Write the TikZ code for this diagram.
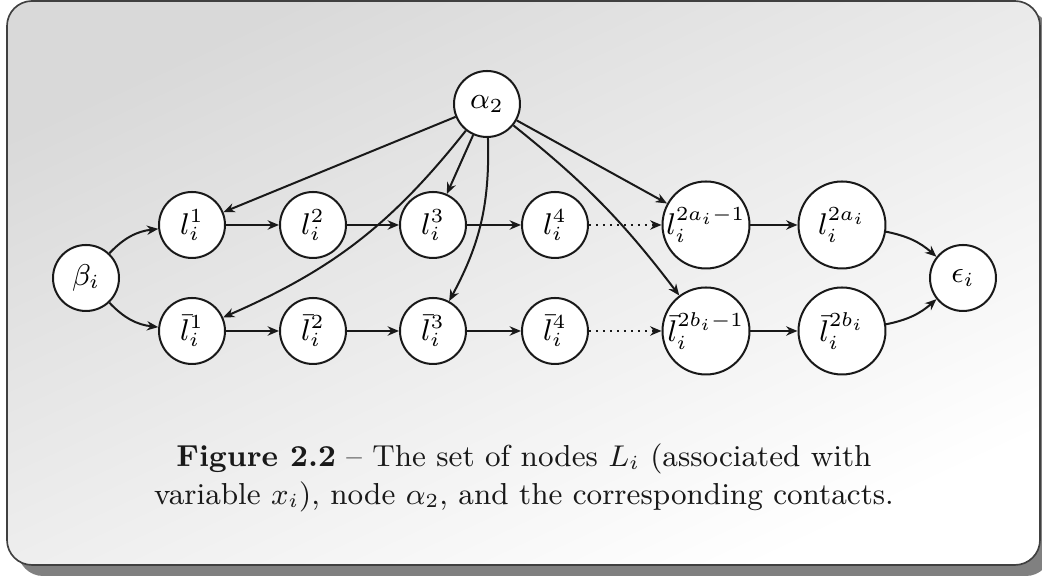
\documentclass[tikz,border=0pt]{standalone}
\usetikzlibrary{arrows.meta}
\begin{document}
\begin{tikzpicture}[x=0.3pt,y=-0.3pt,
  vtx/.style={circle,draw=black!90,fill=white,line width=0.6pt,minimum size=19.8pt,inner sep=0pt,font=\fontsize{9}{11}\selectfont},
  bigvtx/.style={vtx,minimum size=26.1pt},
  arr/.style={-{Stealth[length=3.4pt,width=2.8pt,inset=1.1pt]},line width=0.6pt,draw=black!90},
  dotarr/.style={arr,dash pattern=on 0.6pt off 1.5pt},
  frame/.style={rounded corners=7.5pt}
]
\useasboundingbox (0,0) rectangle (1042,578);
\fill[black!50,frame] (18,12) rectangle (1051,576);
\shade[frame,top color=black!15,bottom color=white,shading angle=25] (7,1) rectangle (1040,565);
\draw[black!75,line width=0.5pt,frame] (7,1) rectangle (1040,565);

\node[vtx] (a) at (487,104) {$\alpha_2$};
\node[vtx] (b) at (86,278) {$\beta_i$};
\node[vtx] (e) at (963,278) {$\epsilon_i$};
\node[vtx] (l1) at (192,225) {$l_i^1$};
\node[vtx] (l2) at (313,225) {$l_i^2$};
\node[vtx] (l3) at (433,225) {$l_i^3$};
\node[vtx] (l4) at (555,225) {$l_i^4$};
\node[bigvtx] (l5) at (706,225) {$l_i^{2a_i-1}$};
\node[bigvtx] (l6) at (842,225) {$l_i^{2a_i}$};
\node[vtx] (lb1) at (192,331) {$\bar{l}_i^1$};
\node[vtx] (lb2) at (313,331) {$\bar{l}_i^2$};
\node[vtx] (lb3) at (433,331) {$\bar{l}_i^3$};
\node[vtx] (lb4) at (555,331) {$\bar{l}_i^4$};
\node[bigvtx] (lb5) at (706,331) {$\bar{l}_i^{2b_i-1}$};
\node[bigvtx] (lb6) at (842,331) {$\bar{l}_i^{2b_i}$};

\draw[arr] (b) to[bend left=20] (l1);
\draw[arr] (b) to[bend right=20] (lb1);
\draw[arr] (l1) -- (l2);
\draw[arr] (l2) -- (l3);
\draw[arr] (l3) -- (l4);
\draw[dotarr] (l4) -- (l5);
\draw[arr] (l5) -- (l6);
\draw[arr] (lb1) -- (lb2);
\draw[arr] (lb2) -- (lb3);
\draw[arr] (lb3) -- (lb4);
\draw[dotarr] (lb4) -- (lb5);
\draw[arr] (lb5) -- (lb6);
\draw[arr] (l6) to[bend left=15] (e);
\draw[arr] (lb6) to[bend right=15] (e);
\draw[arr] (a) -- (l1);
\draw[arr] (a) to[bend left=14] (lb1);
\draw[arr] (a) -- (l3);
\draw[arr] (a) to[bend left=15] (lb3);
\draw[arr] (a) -- (l5);
\draw[arr] (a) to[bend left=7] (lb5);

\node[align=center,text=black!90,font=\fontsize{9.1}{11.4}\selectfont] (cap) at (524,478) {\textbf{Figure 2.2} -- The set of nodes $L_i$ (associated with\\variable $x_i$), node $\alpha_2$, and the corresponding contacts.};
\end{tikzpicture}
\end{document}
